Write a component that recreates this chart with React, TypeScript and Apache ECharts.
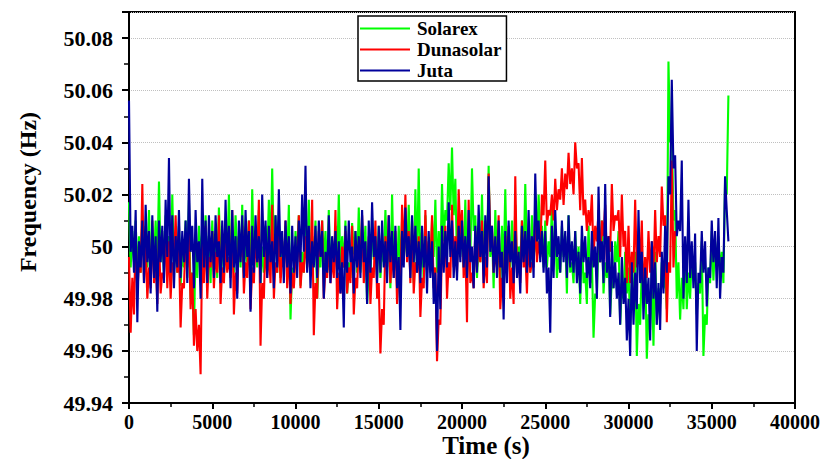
import React, { useEffect, useRef } from "react";
import * as echarts from "echarts";

// Samples every 100 s: "even" samples at 0, 200, 400 ... s and "odd" samples at 100, 300, 500 ... s
const TIME_STEP = 200;
const BASE_HZ = 50;

// Frequency deviation from 50 Hz, in mHz
const solarexEvenMHz = [
  17, 6, 10, 4, 12, 8, 14, 2, 10, 25, 6, 12, 4, 20, 2, 8, -2, 10, 18, -10, 2, 8, 6, 12, 4,
  10, 4, 15, 2, 8, 20, 6, 12, 4, 16, 2, 10, 22, 6, 14, 0, 8, 18, 30, 12, 10, 2, 8, 16, -8,
  6, 12, -2, 8, 18, 4, 10, -4, 10, 6, 14, 2, 8, 20, 4, 10, -6, 9, 6, 15, 0, 8, -8, 11, 2,
  8, 0, 14, 4, 20, -2, 8, 10, 6, 16, 4, 22, 30, 6, 12, 0, 10, 18, 6, 24, 14, 32, 38, 26, 10,
  8, 18, 4, 30, 12, 2, 20, 10, 31, 6, 14, -2, 8, 22, 2, 10, 16, 0, 10, 24, 6, 12, 4, 20, 8,
  10, 2, 16, 6, -4, 8, 4, 12, -6, 6, 0, 3, -10, 8, -4, -18, 4, 10, -6, 4, -12, 2, 6, -14, -2,
  -8, -14, -2, -22, -8, -4, -26, -10, -2, -16, -6, -10, 71, 47, 14, -6, -12, 2, -10, -4, -6, -14, 2, -26, -8,
  6, 2, 4, -2, 25, 58,
];
const solarexOddMHz = [
  -8, -6, -12, -10, -4, -8, -10, -6, -8, -6, -10, -2, -12, -9, -10, -15, -8, -12, -20, -34, -12, -5, -10, -8, -14,
  -6, -12, -4, -12, -6, -8, -10, -3, -8, -10, -6, -12, -5, -8, -14, -10, -6, -4, -2, -10, -12, -6, -8, -28, -12,
  -4, -15, -10, -6, -9, -6, -20, -8, -6, -10, -12, -6, -8, -10, -8, -18, -12, -3, -10, -10, -4, -22, -12, -5, -12,
  -12, -6, -6, -16, -8, -10, -9, -4, -4, -8, -14, -8, -8, -14, -6, -10, -4, -10, -6, 2, 10, 14, 12, -6, -4,
  -8, -12, -4, 6, -12, -6, -8, -4, -4, -16, -6, -14, -10, -10, -8, -14, -8, -6, -6, -2, -10, -6, -2, 6, -8,
  -8, -4, -6, -12, -10, -4, -18, -10, -14, -10, -22, -14, -22, -14, -35, -20, -6, -18, -12, -26, -16, -6, -30, -20, -18,
  -30, -20, -42, -30, -20, -43, -32, -38, -30, -22, -16, -24, 40, 10, -20, -28, -24, -24, -20, -12, -26, -18, -42, -30, -14,
  -13, -8, -10, -14, 20,
];

const dunasolarEvenMHz = [
  -4, -12, 5, -6, 24, 2, -8, 10, -4, 4, -10, 8, 2, -6, 12, 0, -14, 4, 6, -10, -24, -30, 2, 8, -4,
  6, -2, 12, -8, 2, -4, 14, -10, 4, 8, -6, 10, -8, 4, 18, -14, 4, -2, 16, -6, 6, -4, 10, 0, -10,
  -4, 12, -6, 4, 2, 18, -14, 6, 10, -8, 2, -4, 14, -10, 0, 6, -8, 8, -12, 2, 12, -4, 4, -8, 10,
  -14, -24, 4, 12, -2, 6, -10, 16, 20, 6, 10, -6, 4, -12, 14, 2, 12, -8, -28, 2, 8, -6, 16, 4, 22,
  14, 0, 18, -10, 6, 2, 10, -4, 28, 8, -2, 12, -12, 4, 8, -8, 27, -6, 10, -2, 4, -6, 12, 2, 20,
  33, 14, 20, 26, 22, 30, 28, 36, 30, 40, 32, 34, 18, 14, 20, 8, 14, 10, 16, 4, 24, 12, 14, 20, 6,
  8, -2, 18, 4, 10, -4, 6, 2, 14, 4, 23, 12, -6, 33, 6,
];
const dunasolarOddMHz = [
  -33, -26, -18, -10, -14, -20, -16, -14, -22, -18, -12, -16, -20, -8, -10, -31, -16, -8, -24, -38, -40, -49, -14, -20, -8,
  -16, -10, -22, -14, -10, -12, -26, -18, -4, -18, -12, -24, -14, -6, -38, -20, -12, -14, -20, -10, -14, -8, -16, -22, -16,
  -6, -16, -10, -8, -10, -34, -20, -4, -20, -12, -14, -12, -24, -18, -8, -18, -14, -26, -16, -6, -14, -10, -22, -12, -20,
  -41, -30, -8, -14, -12, -22, -16, -4, -6, -14, -18, -10, -27, -16, -10, -8, -16, -44, -30, -6, -20, -12, -8, -10, 4,
  -12, -29, -14, -16, -8, -6, -16, -14, 4, -10, -8, -24, -16, -6, -20, -22, -10, -14, -8, -18, -10, -8, -6, -4, 12,
  8, 12, 10, 14, 18, 16, 22, 24, 20, 30, 14, 12, 6, 8, -4, 2, -6, 4, -6, -2, 6, 10, -4, 0, -14,
  -14, -10, -8, -6, -20, -12, -10, -12, -6, -4, 8, -29, -10, -8,
];

const jutaEvenMHz = [
  56, 8, 14, 2, 10, 16, 6, 12, 4, 10, 8, 18, 34, 12, 4, 14, 6, 10, 26, 8, 14, 2, 26, 10, 12,
  6, 12, 2, 10, 18, 8, 14, 4, 10, 12, 14, 6, 8, 12, 4, 20, 10, 8, 2, 12, 22, 6, 10, 4, 8,
  4, 10, 20, 31, 8, 2, 8, 10, 6, -2, 12, 4, 6, 2, -6, 8, 10, 0, 6, 4, 14, 2, 10, 17, 4,
  8, 10, 2, 12, 6, 8, -4, 6, 15, 4, 12, 8, 2, 8, 4, 6, 2, -10, 0, 8, 6, 17, 10, 2, 8,
  10, 4, 14, 0, 8, 16, 6, 12, 27, 8, 4, 10, -2, 6, 10, 2, 6, -2, 8, 6, 14, 4, 28, 10, 6,
  6, -8, 8, 14, 4, 10, 6, 12, 2, 6, -2, 8, 4, -4, 6, 0, 23, 2, 24, 4, 2, -6, -10, -4, -12,
  -20, -6, -10, 14, -2, -8, -12, 2, -6, -14, -2, 8, 27, 64, 35, 10, 33, 4, 18, 2, 5, -10, 6, 2, -8,
  10, 6, 11, -4, 27, 2,
];
const jutaOddMHz = [
  -2, -10, -29, -8, -14, -6, -18, -12, -25, -6, -14, -4, -10, -16, -8, -12, -6, -14, -2, -16, -6, -20, -8, -14, -6,
  -12, -4, -14, -10, -6, -16, -8, -20, -6, -12, -4, -25, -10, -6, -14, -4, -12, -6, -16, -8, -4, -14, -8, -18, -10,
  -12, -6, -2, -10, -16, -8, -12, -4, -20, -10, -14, -6, -12, -18, -31, -10, -6, -18, -8, -12, -6, -22, -10, -4, -14,
  -10, -8, -14, -6, -12, -16, -32, -8, -4, -12, -6, -10, -14, -8, -18, -12, -22, -40, -24, -10, -8, -4, -12, -13, -6,
  -8, -12, -6, -16, -10, -4, -14, -8, -2, -10, -12, -8, -28, -14, -6, -14, -12, -18, -6, -10, -8, -12, 2, -6, -10,
  -18, -33, -12, -4, -10, -6, -12, -8, -10, -14, -18, -6, -12, -16, -8, -20, -6, -14, -10, -27, -16, -20, -30, -22, -36,
  -42, -30, -24, -14, -28, -22, -36, -20, -30, -32, -18, -10, 20, 30, 4, 6, -20, -14, -12, -16, -40, -14, -10, -23, -12,
  -6, -16, -20, -10, 14,
];

const SERIES_NAMES = ["Solarex", "Dunasolar", "Juta"];
const SERIES_COLORS = ["#00ff00", "#ff0000", "#00009c"];

const X_MIN = 0;
const X_MAX = 40000;
const X_INTERVAL = 5000;
const Y_MIN = 49.94;
const Y_MAX = 50.09;
const Y_INTERVAL = 0.02;

const FONT = "'Liberation Serif', 'Times New Roman', serif";

function toPairs(even: number[], odd: number[]): [number, number][] {
  const out: [number, number][] = [];
  even.forEach((d, i) => {
    out.push([i * TIME_STEP, BASE_HZ + d / 1000]);
    if (i < odd.length) out.push([i * TIME_STEP + TIME_STEP / 2, BASE_HZ + odd[i] / 1000]);
  });
  return out;
}

export default function App() {
  const ref = useRef<HTMLDivElement>(null);

  useEffect(() => {
    if (!ref.current) return;
    const chart = echarts.init(ref.current, undefined, { renderer: "svg" });
    const allData = [
      toPairs(solarexEvenMHz, solarexOddMHz),
      toPairs(dunasolarEvenMHz, dunasolarOddMHz),
      toPairs(jutaEvenMHz, jutaOddMHz),
    ];

    chart.setOption({
      animation: false,
      backgroundColor: "#fff",
      grid: {
        left: 129,
        right: 35,
        top: 12,
        bottom: 56,
        show: true,
        borderColor: "#000",
        borderWidth: 2,
        backgroundColor: "transparent",
      },
      legend: {
        left: 358,
        top: 16,
        orient: "vertical",
        icon: "rect",
        itemWidth: 50,
        itemHeight: 2,
        itemGap: 2,
        padding: [3, 5, 1, 2],
        borderColor: "#000",
        borderWidth: 1.5,
        backgroundColor: "#fff",
        textStyle: {
          fontFamily: FONT,
          fontWeight: "bold",
          fontSize: 19,
          color: "#000",
          padding: [0, 0, 0, 2],
        },
        data: SERIES_NAMES,
      },
      graphic: [
        {
          type: "text",
          x: 486,
          y: 445,
          style: {
            text: "Time (s)",
            fontFamily: FONT,
            fontWeight: "bold",
            fontSize: 25,
            fill: "#000",
            align: "center",
            verticalAlign: "middle",
          },
        },
        {
          type: "text",
          x: 28,
          y: 192,
          rotation: Math.PI / 2,
          style: {
            text: "Frequency (Hz)",
            fontFamily: FONT,
            fontWeight: "bold",
            fontSize: 24,
            fill: "#000",
            align: "center",
            verticalAlign: "middle",
          },
        },
      ],
      xAxis: {
        type: "value",
        min: X_MIN,
        max: X_MAX,
        interval: X_INTERVAL,
        axisLine: { show: true, lineStyle: { color: "#000", width: 2 } },
        axisTick: { show: true, inside: false, length: 6, lineStyle: { color: "#000", width: 2 } },
        minorTick: { show: true, splitNumber: 2, length: 4, lineStyle: { color: "#000", width: 1.5 } },
        axisLabel: {
          fontFamily: FONT,
          fontWeight: "bold",
          fontSize: 20,
          color: "#000",
          margin: 9,
          formatter: (v: number) => String(v),
        },
        splitLine: { show: false },
      },
      yAxis: {
        type: "value",
        min: Y_MIN,
        max: Y_MAX,
        interval: Y_INTERVAL,
        axisLine: { show: true, lineStyle: { color: "#000", width: 2 } },
        axisTick: { show: true, inside: false, length: 7, lineStyle: { color: "#000", width: 2 } },
        minorTick: { show: true, splitNumber: 2, length: 5, lineStyle: { color: "#000", width: 1.5 } },
        axisLabel: {
          fontFamily: FONT,
          fontWeight: "bold",
          fontSize: 22,
          color: "#000",
          margin: 16,
          showMaxLabel: false,
          formatter: (v: number) => String(Math.round(v * 100) / 100),
        },
        splitLine: {
          show: true,
          lineStyle: { color: "#c0c0c0", type: "dotted", width: 1 },
        },
      },
      series: allData.map((data, i) => ({
        name: SERIES_NAMES[i],
        type: "line",
        data,
        symbol: "none",
        showSymbol: false,
        lineStyle: { color: SERIES_COLORS[i], width: 2.1 },
        itemStyle: { color: SERIES_COLORS[i] },
        z: 2 + i,
      })),
    });

    return () => chart.dispose();
  }, []);

  return (
    <div
      ref={ref}
      style={{ position: "fixed", left: 0, top: 0, width: 830, height: 459, background: "#fff" }}
    />
  );
}
